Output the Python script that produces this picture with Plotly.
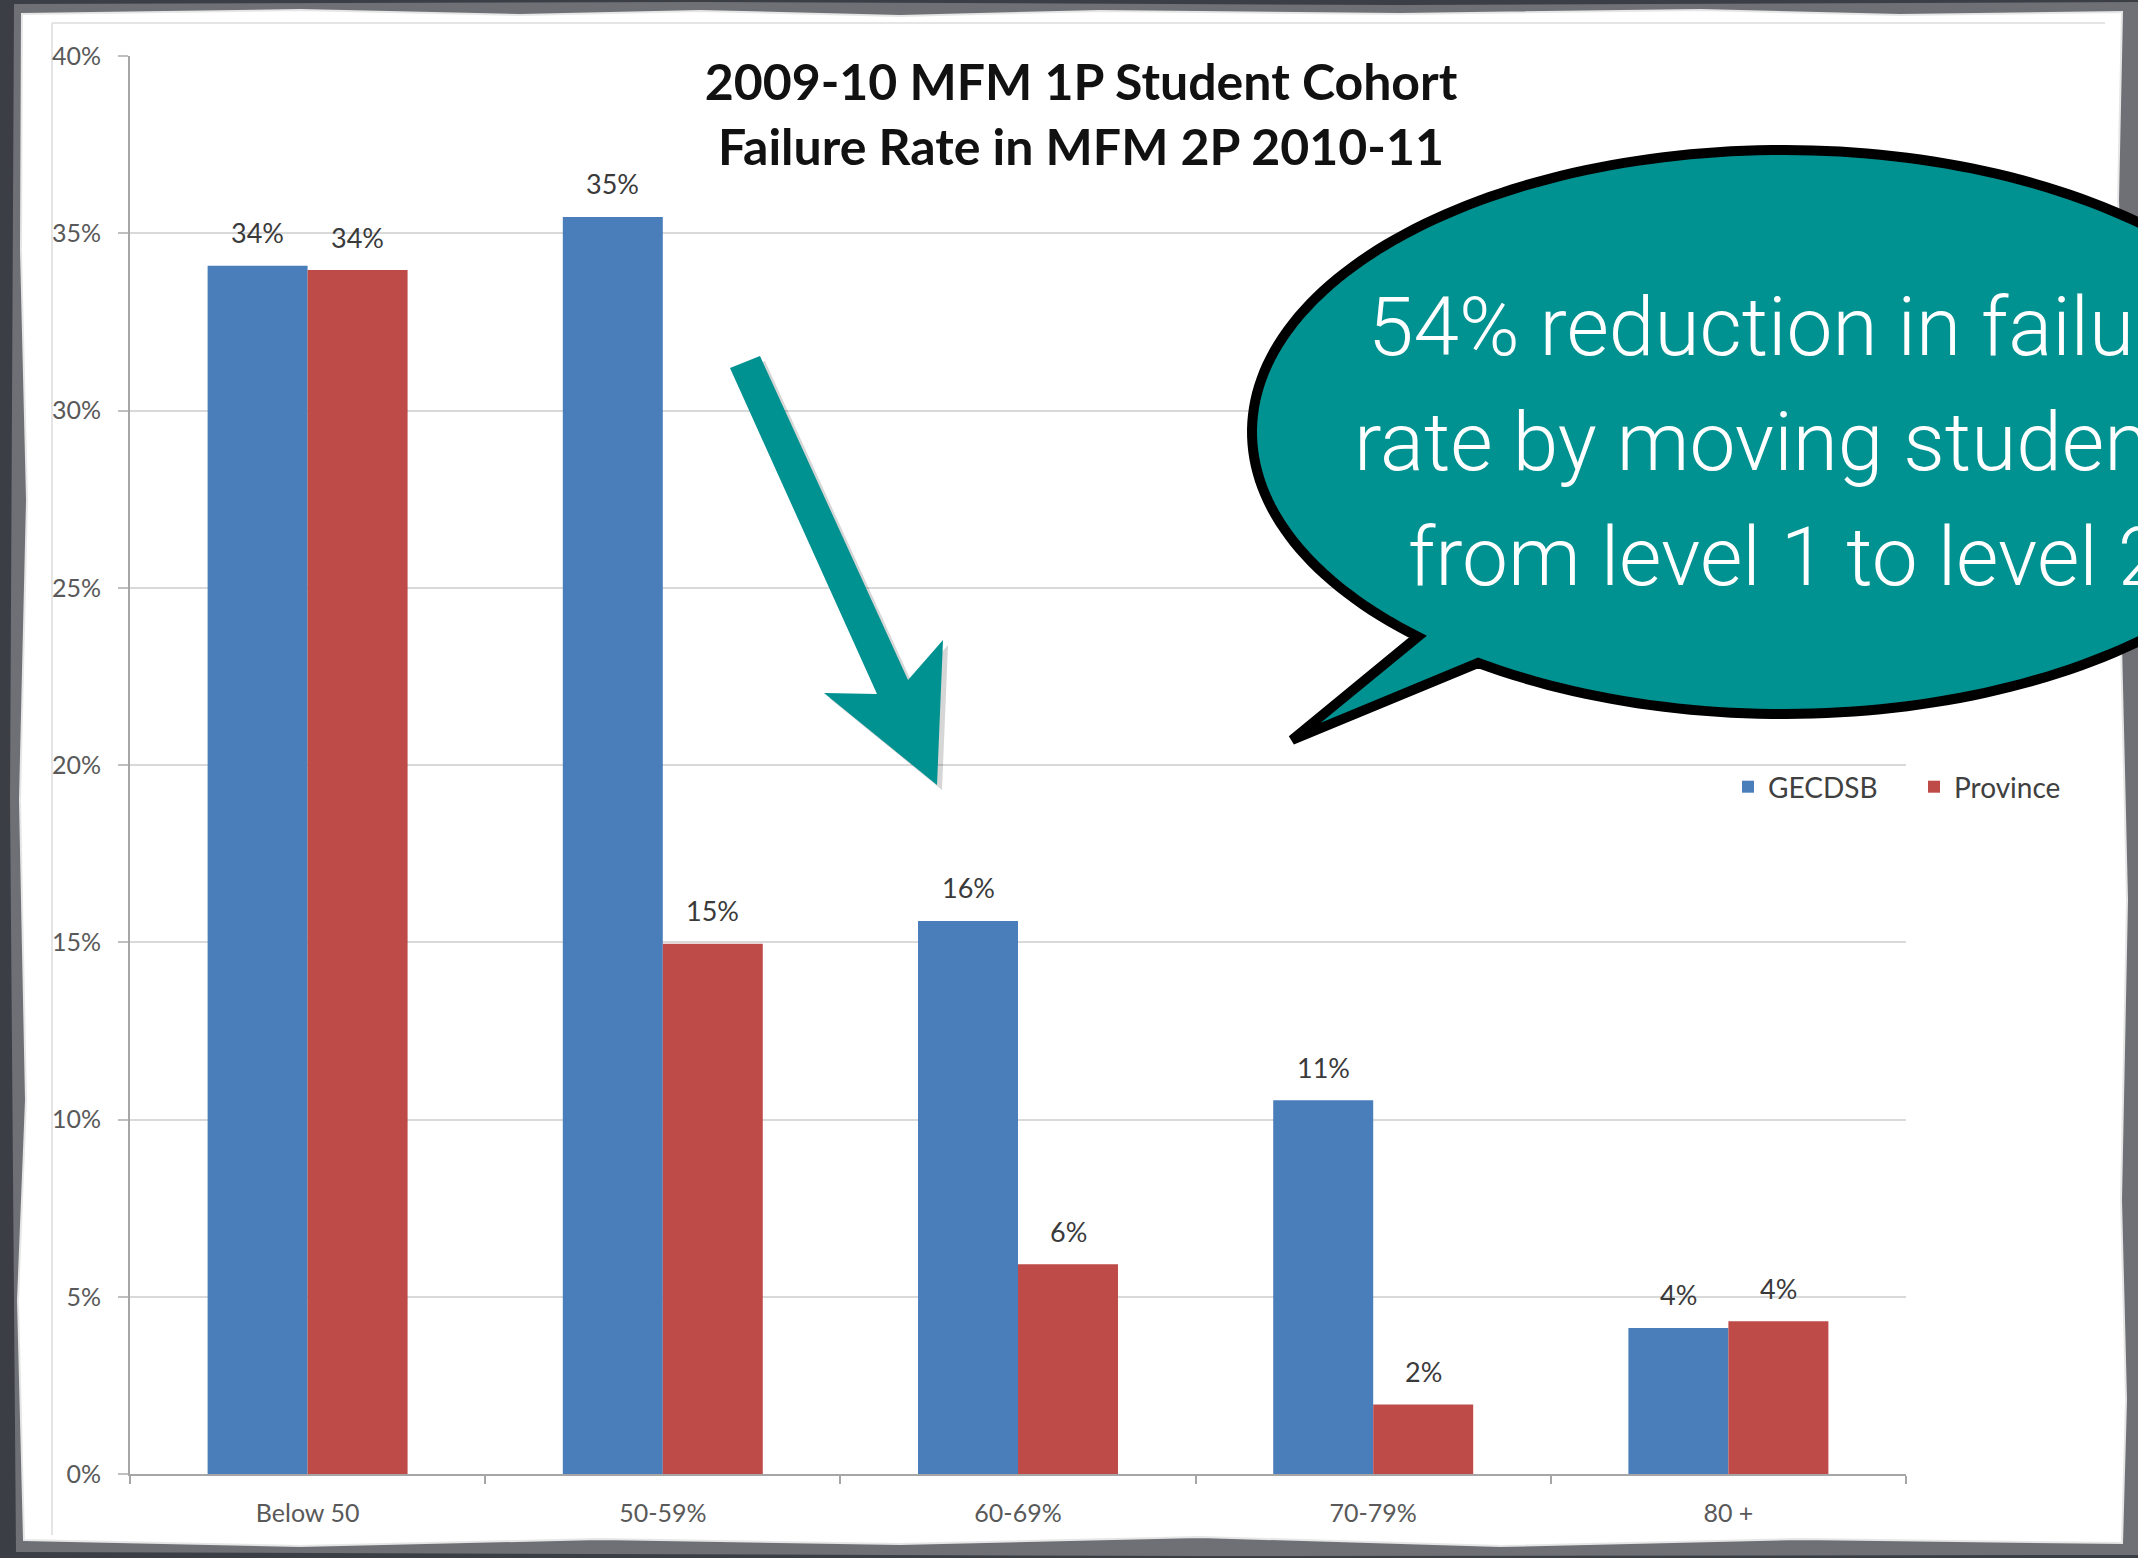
import numpy as np
import plotly.graph_objects as go

W, H = 2138, 1558

# ---- data -------------------------------------------------------------
categories = ["Below 50", "50-59%", "60-69%", "70-79%", "80 +"]
gecdsb = [0.3408, 0.3546, 0.1560, 0.1054, 0.0412]
province = [0.3396, 0.1496, 0.0592, 0.0196, 0.0431]
y_ticks = [0.0, 0.05, 0.10, 0.15, 0.20, 0.25, 0.30, 0.35, 0.40]

title_lines = ["2009-10 MFM 1P Student Cohort", "Failure Rate in MFM 2P 2010-11"]
callout_lines = ["54% reduction in failure", "rate by moving students", "from level 1 to level 2"]

# ---- styling ----------------------------------------------------------
BLUE = "#4A7EBB"
RED = "#BE4B48"
TEAL = "#009191"
BG = "#3b3e45"
FONT = "Lato"
CALLOUT_FONT = "Roboto, sans-serif"


def px(x):
    return x / W


def py(y):
    return 1 - y / H


def poly_path(points):
    return "M " + " L ".join(f"{px(x):.5f},{py(y):.5f}" for x, y in points) + " Z"


fig = go.Figure()
fig.add_trace(go.Bar(name="GECDSB", x=categories, y=gecdsb,
                     marker=dict(color=BLUE, line=dict(width=0))))
fig.add_trace(go.Bar(name="Province", x=categories, y=province,
                     marker=dict(color=RED, line=dict(width=0))))

# value labels above each bar
annotations = []
for series, shift in ((gecdsb, -50), (province, 50)):
    for cat, v in zip(categories, series):
        annotations.append(dict(
            x=cat, y=v, xref="x", yref="y", text=f"{v:.0%}", showarrow=False,
            xshift=shift, yshift=33, yanchor="middle",
            font=dict(family=FONT, size=27, color="#3a3a3a")))

# callout text
for i, line in enumerate(callout_lines):
    annotations.append(dict(
        x=px(1785), y=py(327 + i * 115), xref="paper", yref="paper",
        text=line, showarrow=False, xanchor="center", yanchor="middle",
        font=dict(family=CALLOUT_FONT, size=82, color="white", weight=300)))

# ---- decorative shapes --------------------------------------------------
paper_pts = [
    (22, 14), (300, 10), (520, 15), (700, 11), (900, 16), (1100, 11), (1400, 14),
    (1700, 10), (1900, 15), (2122, 12),
    (2118, 200), (2126, 400), (2120, 600), (2127, 900), (2121, 1200), (2126, 1400),
    (2122, 1543),
    (1800, 1539), (1500, 1546), (1200, 1537), (900, 1544), (600, 1539), (300, 1546),
    (24, 1540),
    (18, 1300), (26, 1100), (20, 800), (27, 500), (21, 250),
]
shadow_pts = [
    (14, 4), (700, 2), (1400, 5), (2138, 2), (2138, 700), (2138, 1555),
    (1200, 1556), (16, 1552), (10, 800),
]

arrow_pts = [(730, 368), (760, 356), (908, 680), (943, 640), (937, 785), (824, 693), (877, 694)]
arrow_shadow = [(x + 5, y + 5) for x, y in arrow_pts]

# speech bubble: ellipse with a pointed tail
cx, cy, rx, ry = 1783, 432, 531, 282
tail_tip = (1292, 740)
th_r = np.arctan2((667 - cy) / ry, (1473 - cx) / rx)
th_l = np.arctan2((640 - cy) / ry, (1412 - cx) / rx) - 2 * np.pi
theta = np.linspace(th_r, th_l, 240)
bubble_pts = [(cx + rx * np.cos(t), cy + ry * np.sin(t)) for t in theta] + [tail_tip]

shapes = [
    dict(type="path", path=poly_path(shadow_pts), xref="paper", yref="paper",
         fillcolor="#6e7076", line=dict(width=0), layer="below"),
    dict(type="path", path=poly_path(paper_pts), xref="paper", yref="paper",
         fillcolor="white", line=dict(color="#e6e6e6", width=2), layer="below"),
    dict(type="line", x0=px(52), x1=px(52), y0=py(23), y1=py(1535), xref="paper", yref="paper",
         line=dict(color="#dcdcdc", width=1.5), layer="below"),
    dict(type="line", x0=px(52), x1=px(2105), y0=py(23), y1=py(23), xref="paper", yref="paper",
         line=dict(color="#dcdcdc", width=1.5), layer="below"),
    dict(type="path", path=poly_path(arrow_shadow), xref="paper", yref="paper",
         fillcolor="rgba(0,0,0,0.16)", line=dict(width=0), layer="above"),
    dict(type="path", path=poly_path(arrow_pts), xref="paper", yref="paper",
         fillcolor=TEAL, line=dict(width=0), layer="above"),
    dict(type="path", path=poly_path(bubble_pts), xref="paper", yref="paper",
         fillcolor=TEAL, line=dict(color="black", width=10), layer="above"),
]

fig.update_layout(
    width=W, height=H,
    margin=dict(l=0, r=0, t=0, b=0, autoexpand=False),
    paper_bgcolor=BG,
    plot_bgcolor="rgba(0,0,0,0)",
    barmode="group", bargap=0.437, bargroupgap=0,
    font=dict(family=FONT, color="#595959"),
    title=dict(text="<br>".join(title_lines), x=px(1081), xanchor="center",
               y=py(100), yanchor="middle", xref="paper", yref="paper",
               font=dict(family=FONT, size=50, color="#111111", weight=700)),
    xaxis=dict(domain=[px(130), px(1906)], showgrid=False, showline=True, automargin=False,
               linecolor="#A6A6A6", linewidth=2, ticks="outside", tickson="boundaries",
               ticklen=8, tickwidth=2, tickcolor="#A6A6A6", ticklabelstandoff=16,
               tickfont=dict(family=FONT, size=25, color="#595959")),
    yaxis=dict(domain=[py(1474), py(56)], range=[0, 0.40], tickvals=y_ticks, automargin=False,
               tickformat=".0%", showgrid=True, gridcolor="#D9D9D9", gridwidth=2,
               zeroline=False, showline=True, linecolor="#A6A6A6", linewidth=2,
               ticks="outside", ticklen=10, tickwidth=2, tickcolor="#BFBFBF",
               ticklabelstandoff=12,
               tickfont=dict(family=FONT, size=25, color="#595959")),
    legend=dict(orientation="h", x=px(1728), xanchor="left", y=py(787), yanchor="middle",
                bgcolor="rgba(0,0,0,0)", font=dict(family=FONT, size=28, color="#404040"),
                entrywidth=141, entrywidthmode="pixels", traceorder="normal"),
    shapes=shapes,
    annotations=annotations,
)

fig.write_html("out.html")
